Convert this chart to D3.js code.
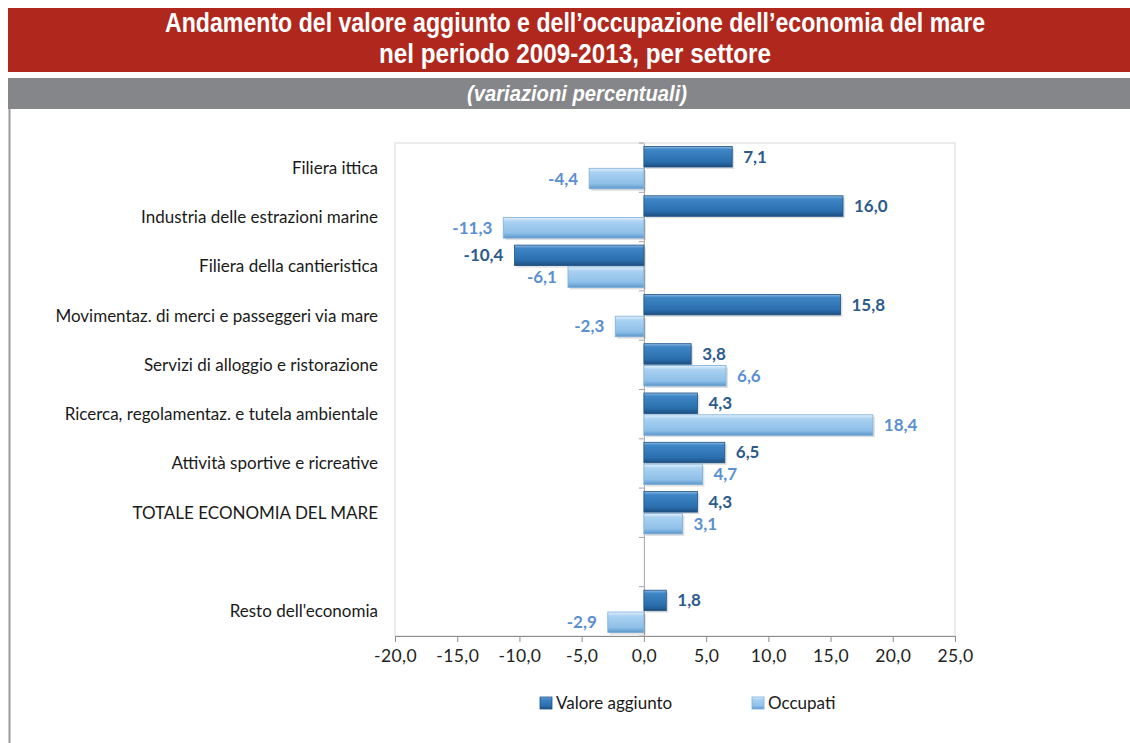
<!DOCTYPE html>
<html>
<head>
<meta charset="utf-8">
<script src="https://cdn.jsdelivr.net/npm/d3@7"></script>
<style>
  body { margin: 0; background: #fff; }
  svg { display: block; }
</style>
</head>
<body>
<div id="chart"></div>
<script>
// sectors, top to bottom (the empty one is the gap before "Resto dell'economia")
const categories = [
    "Filiera ittica",
    "Industria delle estrazioni marine",
    "Filiera della cantieristica",
    "Movimentaz. di merci e passeggeri via mare",
    "Servizi di alloggio e ristorazione",
    "Ricerca, regolamentaz. e tutela ambientale",
    "Attività sportive e ricreative",
    "TOTALE ECONOMIA DEL MARE",
    "",
    "Resto dell'economia"
]
const valoreAggiunto = [7.1, 16.0, -10.4, 15.8, 3.8, 4.3, 6.5, 4.3, null, 1.8]
const occupati = [-4.4, -11.3, -6.1, -2.3, 6.6, 18.4, 4.7, 3.1, null, -2.9]
const xTicks = [-20, -15, -10, -5, 0, 5, 10, 15, 20, 25]
const seriesNames = ["Valore aggiunto", "Occupati"]

const W = 1130, H = 743
const fmt = v => v.toFixed(1).replace(".", ",")
const font = "Lato, 'Open Sans', sans-serif"

const svg = d3.select("#chart").append("svg")
    .attr("width", W)
    .attr("height", H)

// gradients for the bevelled bars
const defs = svg.append("defs")
function gradient(id, stops) {
    let g = defs.append("linearGradient").attr("id", id)
        .attr("x1", 0).attr("y1", 0).attr("x2", 0).attr("y2", 1)
    stops.forEach(s => g.append("stop").attr("offset", s[0]).attr("stop-color", s[1]))
}
gradient("gVal", [[0, "#8dbbe3"], [0.15, "#3f86c6"], [0.75, "#2a6ead"], [1, "#1c4f80"]])
gradient("gOcc", [[0, "#e4f1fb"], [0.2, "#a9d1f1"], [0.75, "#8ec0e9"], [1, "#5d97c9"]])

// header bands
svg.append("rect").attr("x", 8).attr("y", 8).attr("width", W - 8).attr("height", 64).attr("fill", "#b0271d")
svg.append("rect").attr("x", 8).attr("y", 78).attr("width", W - 8).attr("height", 31).attr("fill", "#858689")
svg.append("line").attr("x1", 9.5).attr("x2", 9.5).attr("y1", 109).attr("y2", H).attr("stroke", "#9a9a9c").attr("stroke-width", 2)

const title = [
    { text: "Andamento del valore aggiunto e dell’occupazione dell’economia del mare", y: 32, len: 820 },
    { text: "nel periodo 2009-2013, per settore", y: 63, len: 392 }
]
svg.selectAll(".title").data(title).enter().append("text")
    .attr("x", 575).attr("y", d => d.y)
    .attr("text-anchor", "middle")
    .attr("textLength", d => d.len).attr("lengthAdjust", "spacingAndGlyphs")
    .attr("fill", "#fff").attr("font-family", "'Liberation Sans Narrow', 'Liberation Sans', sans-serif")
    .attr("font-weight", "bold").attr("font-size", 27)
    .text(d => d.text)

svg.append("text")
    .attr("x", 577).attr("y", 101)
    .attr("text-anchor", "middle")
    .attr("textLength", 220).attr("lengthAdjust", "spacingAndGlyphs")
    .attr("fill", "#fff").attr("font-family", "'Liberation Sans Narrow', 'Liberation Sans', sans-serif")
    .attr("font-weight", "bold").attr("font-style", "italic").attr("font-size", 22)
    .text("(variazioni percentuali)")

// plot area
const plot = { left: 395, right: 955, top: 143, bottom: 636 }

const x = d3.scaleLinear().domain([-20, 25]).range([plot.left, plot.right])
const y = d3.scaleBand().domain(d3.range(categories.length)).range([plot.top, plot.bottom])
const inner = d3.scaleBand().domain([0, 1]).range([0, y.bandwidth()]).paddingInner(0.06).paddingOuter(0.16)

svg.append("rect")
    .attr("x", plot.left).attr("y", plot.top)
    .attr("width", plot.right - plot.left).attr("height", plot.bottom - plot.top)
    .attr("fill", "none").attr("stroke", "#d9d9d9")

// x axis
const xAxis = svg.append("g")
    .attr("transform", `translate(0,${plot.bottom})`)
    .call(d3.axisBottom(x).tickValues(xTicks).tickFormat(fmt).tickSizeOuter(0).tickSize(6).tickPadding(8))
xAxis.select(".domain").attr("stroke", "#8c8c8c")
xAxis.selectAll(".tick line").attr("stroke", "#8c8c8c")
xAxis.selectAll("text").attr("font-family", font).attr("font-size", 17.5).attr("fill", "#222")
    .attr("letter-spacing", 0.4)

// zero line with category ticks
const yAxis = svg.append("g")
    .attr("transform", `translate(${x(0)},0)`)
    .call(d3.axisLeft(y).tickValues([]).tickSizeOuter(0))
yAxis.select(".domain").attr("stroke", "#a6a6a6")
svg.append("g").selectAll("line")
    .data(d3.range(categories.length + 1))
    .enter().append("line")
    .attr("x1", x(0) - 5).attr("x2", x(0))
    .attr("y1", i => plot.top + i * y.step()).attr("y2", i => plot.top + i * y.step())
    .attr("stroke", "#a6a6a6")

// category labels
svg.append("g").selectAll("text")
    .data(categories)
    .enter().append("text")
    .attr("x", 378)
    .attr("y", (d, i) => y(i) + y.bandwidth() / 2)
    .attr("dy", "0.35em")
    .attr("text-anchor", "end")
    .attr("font-family", font).attr("font-size", 17).attr("fill", "#1a1a1a")
    .text(d => d)

// bars
const series = [
    { values: valoreAggiunto, fill: "url(#gVal)", stroke: "#1d5184", label: "#2c5b8c" },
    { values: occupati, fill: "url(#gOcc)", stroke: "#7aaedb", label: "#5b8fd0" }
]

series.forEach((s, si) => {
    let data = s.values.map((v, i) => ({ v, i })).filter(d => d.v !== null)
    let g = svg.append("g")
    g.selectAll("rect.shadow")
        .data(data).enter().append("rect")
        .attr("x", d => Math.min(x(0), x(d.v)) + 2)
        .attr("y", d => y(d.i) + inner(si) + 2)
        .attr("width", d => Math.abs(x(d.v) - x(0)))
        .attr("height", inner.bandwidth())
        .attr("fill", "#000").attr("opacity", 0.12)
    g.selectAll("rect.bar")
        .data(data).enter().append("rect")
        .attr("x", d => Math.min(x(0), x(d.v)))
        .attr("y", d => y(d.i) + inner(si))
        .attr("width", d => Math.abs(x(d.v) - x(0)))
        .attr("height", inner.bandwidth())
        .attr("fill", s.fill)
        .attr("stroke", s.stroke).attr("stroke-width", 0.8)
    g.selectAll("text")
        .data(data).enter().append("text")
        .attr("x", d => d.v >= 0 ? x(d.v) + 11 : x(d.v) - 11)
        .attr("y", d => y(d.i) + inner(si) + inner.bandwidth() / 2)
        .attr("dy", "0.35em")
        .attr("text-anchor", d => d.v >= 0 ? "start" : "end")
        .attr("font-family", font).attr("font-weight", "bold").attr("font-size", 17)
        .attr("fill", s.label)
        .text(d => fmt(d.v))
})

// legend
const legendX = [540, 752]
const legend = svg.append("g").selectAll("g")
    .data(seriesNames)
    .enter().append("g")
    .attr("transform", (d, i) => `translate(${legendX[i]},697)`)
legend.append("rect")
    .attr("width", 12).attr("height", 12)
    .attr("fill", (d, i) => series[i].fill)
    .attr("stroke", (d, i) => series[i].stroke).attr("stroke-width", 0.8)
legend.append("text")
    .attr("x", 16).attr("y", 6).attr("dy", "0.35em")
    .attr("font-family", font).attr("font-size", 17).attr("fill", "#1a1a1a")
    .text(d => d)
</script>
</body>
</html>
